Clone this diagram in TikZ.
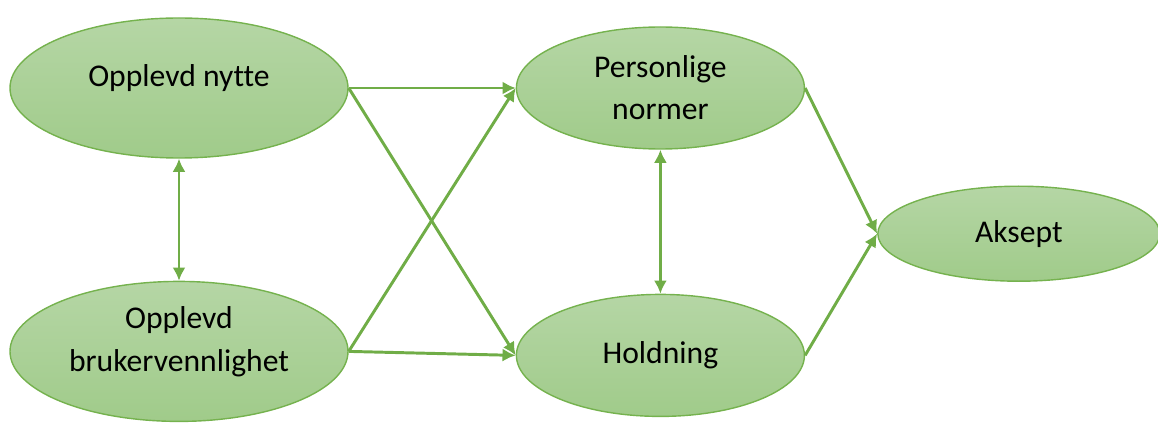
\documentclass[tikz,border=0pt]{standalone}
\usepackage{fontspec}
\setmainfont[Ligatures=NoCommon]{Carlito}
\usetikzlibrary{arrows.meta,shapes.geometric,calc,positioning}
\definecolor{conceptTop}{RGB}{181,214,165}
\definecolor{conceptBottom}{RGB}{160,203,138}
\definecolor{conceptBorder}{RGB}{117,178,78}
\definecolor{linkColor}{RGB}{112,173,71}
\tikzset{concept/.style={ellipse, draw=conceptBorder, line width=1pt, top color=conceptTop, bottom color=conceptBottom, align=center, inner sep=0pt, font=\fontsize{22.5}{30}\selectfont}}
\tikzset{outer/.style={concept, minimum width=8.45cm, minimum height=3.5cm, text depth=0.62cm}}
\tikzset{inner/.style={concept, minimum width=7.2cm, minimum height=3.05cm}}
\tikzset{link/.style={draw=linkColor, line width=2.1pt, -{Latex[length=0.33cm, width=0.33cm]}}}

\begin{document}
\begin{tikzpicture}[node distance=3.05cm and 4.175cm]
\useasboundingbox (0,0) rectangle (28.95,-10.6);
% Nodes
\node (OpplevdNytte) [outer] at (4.475,-2.2) {Opplevd nytte};

\node (OpplevdBruker) [outer, below=of OpplevdNytte] {Opplevd\\ brukervennlighet};

\node (PersonligeNormer) [inner, right=of OpplevdNytte] {Personlige\\ normer};

\node (Holdning) [inner, below=3.6cm of PersonligeNormer] {Holdning};

\node (Aksept) [concept, minimum width=7.05cm, minimum height=2.375cm, anchor=west, yshift=-0.3cm] at ($(PersonligeNormer.east)!0.5!(Holdning.east)+(1.8,0)$) {Aksept};

% Connectors
\begin{scope}[link]

\draw [{Latex[length=0.33cm, width=0.33cm]}-{Latex[length=0.33cm, width=0.33cm]}] (OpplevdNytte) -- (OpplevdBruker);
\draw [{Latex[length=0.33cm, width=0.33cm]}-{Latex[length=0.33cm, width=0.33cm]}] (PersonligeNormer) -- (Holdning);

\draw (OpplevdNytte.east) -- (PersonligeNormer.west);
\draw (OpplevdNytte.east) -- (Holdning.west);
\draw (OpplevdBruker.east) -- (PersonligeNormer.west);
\draw (OpplevdBruker.east) -- (Holdning.west);

\draw (PersonligeNormer.east) -- (Aksept.west);
\draw (Holdning.east) -- (Aksept.west);

\end{scope}

\end{tikzpicture}
\end{document}
